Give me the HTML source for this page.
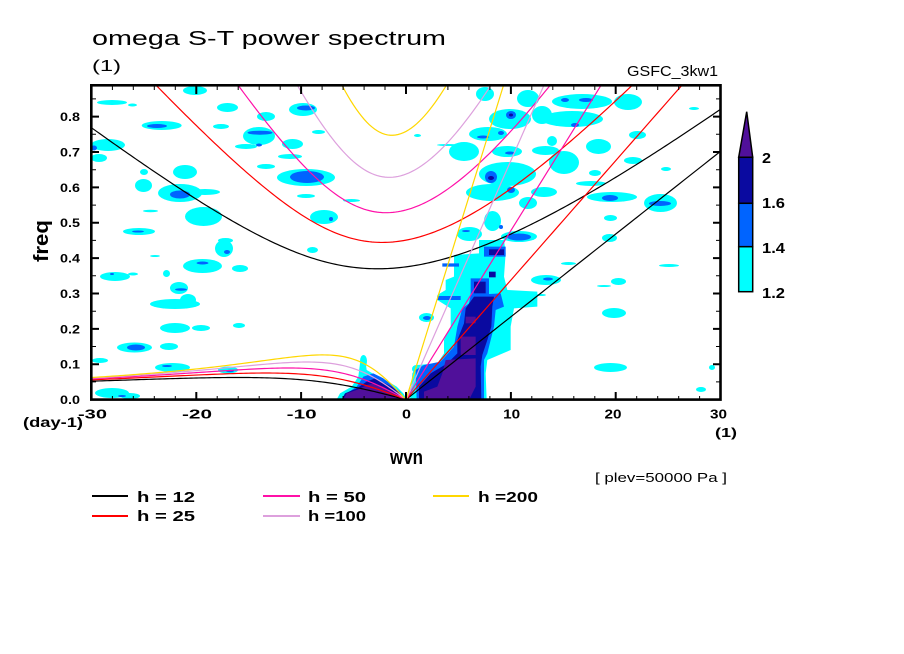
<!DOCTYPE html>
<html><head><meta charset="utf-8"><style>
html,body{margin:0;padding:0;background:#fff;}
svg{display:block;}
text{font-family:"Liberation Sans",sans-serif;fill:#000;}
.c{fill:#00ffff}.b{fill:#0064ff}.n{fill:#0a0aa0}.p{fill:#50109a}
.bd{font-weight:bold}
</style></head><body>
<svg width="904" height="654" viewBox="0 0 904 654" xmlns="http://www.w3.org/2000/svg">
<defs><clipPath id="pc"><rect x="91.3" y="85.3" width="629.2" height="314.3"/></clipPath></defs>
<rect width="904" height="654" fill="#fff"/>
<g clip-path="url(#pc)">
<!-- top-left blobs -->
<ellipse class="c" cx="195" cy="90.5" rx="12" ry="4.5"/>
<ellipse class="c" cx="112" cy="102.5" rx="15" ry="2.5"/>
<ellipse class="c" cx="132.5" cy="105" rx="4.5" ry="1.5"/>
<ellipse class="c" cx="227.5" cy="107.5" rx="10.5" ry="4.5"/>
<ellipse class="c" cx="266" cy="116.5" rx="9" ry="4.5"/>
<ellipse class="c" cx="303" cy="109.5" rx="14" ry="6.5"/>
<ellipse class="b" cx="306" cy="108" rx="9" ry="2.5"/>
<ellipse class="c" cx="161.7" cy="125.5" rx="20" ry="4.5"/>
<ellipse class="b" cx="157" cy="126" rx="10" ry="2"/>
<ellipse class="c" cx="221" cy="126.5" rx="8" ry="2.5"/>
<ellipse class="c" cx="259" cy="136" rx="16" ry="9"/>
<ellipse class="b" cx="260" cy="132.7" rx="12.5" ry="2"/>
<ellipse class="b" cx="259" cy="145" rx="3" ry="1.5"/>
<ellipse class="c" cx="246" cy="146.5" rx="11" ry="2.5"/>
<ellipse class="c" cx="292.5" cy="144" rx="10.5" ry="5"/>
<ellipse class="c" cx="318.5" cy="132" rx="6.5" ry="2"/>
<ellipse class="c" cx="108" cy="145" rx="17" ry="6"/>
<ellipse class="b" cx="94" cy="148" rx="3" ry="2.5"/>
<ellipse class="c" cx="99" cy="158" rx="8" ry="4"/>
<ellipse class="c" cx="290" cy="156.5" rx="12" ry="2.5"/>
<ellipse class="c" cx="266" cy="166.5" rx="9" ry="2.5"/>
<ellipse class="c" cx="185" cy="172" rx="12" ry="7"/>
<ellipse class="c" cx="144" cy="172" rx="4" ry="3"/>
<ellipse class="c" cx="306" cy="177.5" rx="29" ry="8.5"/>
<ellipse class="b" cx="307" cy="177" rx="17" ry="6"/>
<ellipse class="c" cx="143.5" cy="185.5" rx="8.5" ry="6.5"/>
<ellipse class="c" cx="180" cy="193" rx="22" ry="9"/>
<ellipse class="c" cx="205" cy="192" rx="15" ry="3"/>
<ellipse class="b" cx="180" cy="194.5" rx="10" ry="4"/>
<ellipse class="c" cx="203.5" cy="216.5" rx="18.5" ry="9.5"/>
<ellipse class="c" cx="306" cy="196" rx="9" ry="2"/>
<ellipse class="c" cx="351.5" cy="200.5" rx="8.5" ry="1.5"/>
<ellipse class="c" cx="324" cy="217" rx="14" ry="7"/>
<ellipse class="b" cx="331" cy="219" rx="2" ry="2"/>
<ellipse class="c" cx="139" cy="231.5" rx="16" ry="3.5"/>
<ellipse class="b" cx="138" cy="231.5" rx="6" ry="1"/>
<ellipse class="c" cx="225.5" cy="240.5" rx="7.5" ry="2.5"/>
<ellipse class="c" cx="150.5" cy="211" rx="7.5" ry="1.2"/>
<!-- top-right blobs -->
<ellipse class="c" cx="485" cy="94" rx="9" ry="7"/>
<ellipse class="c" cx="510" cy="119" rx="21" ry="10"/>
<ellipse class="b" cx="511" cy="115" rx="5" ry="4"/>
<ellipse class="n" cx="511" cy="115" rx="2" ry="1.5"/>
<ellipse class="c" cx="528" cy="98.5" rx="11" ry="8.5"/>
<ellipse class="c" cx="542" cy="115" rx="10" ry="9"/>
<ellipse class="c" cx="582" cy="101.5" rx="30" ry="7.5"/>
<ellipse class="b" cx="565" cy="100" rx="4" ry="2"/>
<ellipse class="b" cx="586" cy="100" rx="7" ry="2"/>
<ellipse class="c" cx="628" cy="102" rx="14" ry="8"/>
<ellipse class="c" cx="572" cy="119" rx="31" ry="8"/>
<ellipse class="b" cx="575" cy="125" rx="4" ry="2"/>
<ellipse class="c" cx="488" cy="134" rx="19" ry="7"/>
<ellipse class="b" cx="483" cy="137" rx="6" ry="1.5"/>
<ellipse class="b" cx="501" cy="133" rx="3" ry="2"/>
<ellipse class="c" cx="417.5" cy="135.5" rx="3.5" ry="1.5"/>
<ellipse class="c" cx="448" cy="145" rx="11" ry="1"/>
<ellipse class="c" cx="464" cy="151.5" rx="15" ry="9.5"/>
<ellipse class="c" cx="507" cy="151.5" rx="15" ry="5.5"/>
<ellipse class="b" cx="510" cy="153" rx="5" ry="1.5"/>
<ellipse class="c" cx="545.5" cy="150.5" rx="13.5" ry="4.5"/>
<ellipse class="c" cx="552" cy="141" rx="5" ry="5"/>
<ellipse class="c" cx="598.5" cy="146.5" rx="12.5" ry="7.5"/>
<ellipse class="c" cx="637.5" cy="135" rx="8.5" ry="4"/>
<ellipse class="c" cx="694" cy="108.5" rx="5" ry="1.5"/>
<ellipse class="c" cx="564" cy="162.5" rx="15" ry="11.5"/>
<ellipse class="c" cx="507.5" cy="174" rx="28.5" ry="12"/>
<ellipse class="b" cx="491" cy="177" rx="6" ry="6"/>
<ellipse class="n" cx="491" cy="178" rx="3" ry="2"/>
<ellipse class="c" cx="492.5" cy="192.5" rx="26.5" ry="8.5"/>
<ellipse class="b" cx="511" cy="190" rx="4" ry="3"/>
<ellipse class="c" cx="591" cy="183.5" rx="15" ry="2.5"/>
<ellipse class="c" cx="595" cy="173" rx="6" ry="3"/>
<ellipse class="c" cx="633" cy="160.5" rx="9" ry="3.5"/>
<ellipse class="c" cx="666" cy="169" rx="5" ry="2"/>
<ellipse class="c" cx="612" cy="197" rx="25" ry="5"/>
<ellipse class="b" cx="610" cy="198" rx="8" ry="3"/>
<ellipse class="c" cx="660.5" cy="203" rx="16.5" ry="9"/>
<ellipse class="b" cx="660" cy="203.5" rx="11" ry="2.5"/>
<ellipse class="c" cx="528" cy="203" rx="9" ry="6"/>
<ellipse class="c" cx="544" cy="192" rx="13" ry="5"/>
<ellipse class="c" cx="610.5" cy="218" rx="6.5" ry="3"/>
<ellipse class="c" cx="492.5" cy="221" rx="8.5" ry="10"/>
<ellipse class="b" cx="501" cy="227" rx="2" ry="2"/>
<ellipse class="c" cx="469.5" cy="234" rx="12.5" ry="7"/>
<ellipse class="b" cx="466" cy="231" rx="4" ry="1"/>
<ellipse class="c" cx="519" cy="236.5" rx="18" ry="5.5"/>
<ellipse class="b" cx="519" cy="237" rx="12" ry="3.5"/>
<ellipse class="c" cx="609.5" cy="238" rx="7.5" ry="4"/>
<!-- bottom-left blobs -->
<ellipse class="c" cx="224" cy="248.5" rx="9" ry="8.5"/>
<ellipse class="b" cx="227" cy="252" rx="3" ry="2"/>
<ellipse class="c" cx="312.5" cy="250" rx="5.5" ry="3"/>
<ellipse class="c" cx="155" cy="256" rx="5" ry="1"/>
<ellipse class="c" cx="202.5" cy="266" rx="19.5" ry="7"/>
<ellipse class="b" cx="202.5" cy="263" rx="6" ry="1.5"/>
<ellipse class="c" cx="240" cy="268.5" rx="8" ry="3.5"/>
<ellipse class="c" cx="115" cy="276.5" rx="15" ry="4.5"/>
<ellipse class="c" cx="133" cy="274" rx="5" ry="1.5"/>
<ellipse class="b" cx="112" cy="274" rx="2" ry="1"/>
<ellipse class="c" cx="166.5" cy="273.5" rx="3.5" ry="3.5"/>
<ellipse class="c" cx="179" cy="288" rx="9" ry="6"/>
<ellipse class="b" cx="181" cy="289.5" rx="6" ry="1.2"/>
<ellipse class="c" cx="175" cy="304" rx="25" ry="5"/>
<ellipse class="c" cx="188" cy="300" rx="8" ry="6"/>
<ellipse class="c" cx="175" cy="328" rx="15" ry="5"/>
<ellipse class="c" cx="201" cy="328" rx="9" ry="3"/>
<ellipse class="c" cx="239" cy="325.5" rx="6" ry="2.5"/>
<ellipse class="c" cx="134.5" cy="347.5" rx="17.5" ry="5"/>
<ellipse class="b" cx="136" cy="347.5" rx="9" ry="3"/>
<ellipse class="c" cx="169" cy="346.5" rx="9" ry="3.5"/>
<ellipse class="c" cx="100" cy="360.5" rx="8" ry="2.5"/>
<ellipse class="c" cx="172.5" cy="367.5" rx="17.5" ry="4.5"/>
<ellipse class="b" cx="167" cy="366" rx="5" ry="1"/>
<ellipse class="c" cx="228" cy="370" rx="10" ry="3.5"/>
<ellipse class="b" cx="230" cy="371" rx="4" ry="1.2"/>
<ellipse class="c" cx="112" cy="393" rx="17" ry="5"/>
<ellipse class="c" cx="130" cy="396" rx="10" ry="3"/>
<ellipse class="b" cx="122" cy="396" rx="4" ry="1"/>
<ellipse class="c" cx="363.5" cy="361" rx="3.5" ry="6"/>
<!-- bottom-right small blobs -->
<ellipse class="c" cx="610.5" cy="367.5" rx="16.5" ry="4.5"/>
<ellipse class="c" cx="614" cy="313" rx="12" ry="5"/>
<ellipse class="c" cx="618.5" cy="281.5" rx="7.5" ry="3.5"/>
<ellipse class="c" cx="568.5" cy="263.5" rx="7.5" ry="1.5"/>
<ellipse class="c" cx="669" cy="265.5" rx="10" ry="1.5"/>
<ellipse class="c" cx="604" cy="286" rx="7" ry="1"/>
<ellipse class="c" cx="701" cy="389.5" rx="5" ry="2.5"/>
<ellipse class="c" cx="712" cy="367.5" rx="3" ry="2.5"/>
<ellipse class="c" cx="426.5" cy="317.5" rx="7.5" ry="4.5"/>
<ellipse class="b" cx="427" cy="318" rx="4" ry="2"/>
<ellipse class="c" cx="416.5" cy="369" rx="4.5" ry="4"/>
<ellipse class="c" cx="541" cy="295" rx="5" ry="1"/>
<ellipse class="c" cx="546" cy="280" rx="15" ry="5"/>
<ellipse class="b" cx="548" cy="279" rx="5" ry="1.5"/>
<!-- Kelvin band (zoom coords) -->
<g transform="translate(404 240) scale(0.33333)">
<polygon class="c" points="225,0 300,0 305,40 300,110 310,150 400,155 400,200 330,205 320,260 320,330 285,345 250,360 245,400 248,480 18,480 25,400 40,375 100,370 120,340 120,300 140,260 140,205 100,180 100,165 125,150 125,120 150,110 150,45 225,40"/>
<polygon class="b" points="200,165 290,160 300,200 275,210 270,260 260,300 250,340 240,360 240,480 38,480 35,390 60,375 110,365 150,320 160,260 175,205 195,190"/>
<polygon class="n" points="210,170 270,170 265,200 262,260 250,300 235,345 230,380 232,480 45,480 45,440 80,400 130,370 160,340 160,300 180,250 185,205"/>
<polygon class="p" points="185,230 215,230 215,250 185,250"/>
<polygon class="p" points="170,290 215,290 215,345 170,345"/>
<polygon class="p" points="125,360 215,355 215,440 195,480 60,480 60,455 100,440 115,400"/>
<polygon class="b" points="240,20 305,20 305,50 240,50"/>
<polygon class="n" points="255,28 300,28 300,45 255,45"/>
<polygon class="b" points="200,115 255,115 255,165 200,165"/>
<polygon class="n" points="210,125 245,125 245,160 210,160"/>
<polygon class="b" points="100,168 170,168 170,180 100,180"/>
<polygon class="n" points="255,95 275,95 275,112 255,112"/>
<polygon class="b" points="115,70 165,70 165,80 115,80"/>
</g>
<!-- left origin cluster (zoom coords) -->
<g transform="translate(320 230) scale(0.33333)">
<polygon class="c" points="48,512 60,490 95,470 115,440 120,400 135,380 140,420 175,440 205,455 230,470 250,490 262,512"/>
<polygon class="b" points="60,512 80,490 110,470 130,440 160,430 190,445 215,465 240,485 258,512"/>
<polygon class="n" points="63,512 75,490 110,475 140,455 165,445 185,455 215,470 240,490 255,512"/>
<polygon class="p" points="68,512 80,490 115,478 140,465 165,460 190,470 215,485 235,500 242,512"/>
</g>
<g id="curves" fill="none" stroke-width="1.2"></g>
</g>
<!-- frame -->
<rect x="91.3" y="85.3" width="629.2" height="314.3" fill="none" stroke="#000" stroke-width="2.6"/>
<!-- ticks -->
<path stroke="#000" stroke-width="2" fill="none" d="M91 364.2h8M91 328.9h8M91 293.5h8M91 258.1h8M91 222.75h8M91 187.4h8M91 152h8M91 116.6h8M721 364.2h-8M721 328.9h-8M721 293.5h-8M721 258.1h-8M721 222.75h-8M721 187.4h-8M721 152h-8M721 116.6h-8M196.3 400v-8M301.1 400v-8M406 400v-8M510.9 400v-8M615.7 400v-8M196.3 85v9M301.1 85v9M406 85v9M510.9 85v9M615.7 85v9"/>
<path stroke="#000" stroke-width="1" fill="none" d="M91 381.9h5M91 346.5h5M91 311.2h5M91 275.8h5M91 240.4h5M91 205.1h5M91 169.7h5M91 134.3h5M91 98.9h5M721 381.9h-5M721 346.5h-5M721 311.2h-5M721 275.8h-5M721 240.4h-5M721 205.1h-5M721 169.7h-5M721 134.3h-5M721 98.9h-5M112.4 400v-4M133.3 400v-4M154.3 400v-4M175.3 400v-4M217.2 400v-4M238.2 400v-4M259.2 400v-4M280.2 400v-4M322.1 400v-4M343.1 400v-4M364.1 400v-4M385 400v-4M427 400v-4M447.9 400v-4M468.9 400v-4M489.9 400v-4M531.8 400v-4M552.8 400v-4M573.8 400v-4M594.8 400v-4M636.7 400v-4M657.7 400v-4M678.7 400v-4M699.6 400v-4M112.4 85v5M133.3 85v5M154.3 85v5M175.3 85v5M217.2 85v5M238.2 85v5M259.2 85v5M280.2 85v5M322.1 85v5M343.1 85v5M364.1 85v5M385 85v5M427 85v5M447.9 85v5M468.9 85v5M489.9 85v5M531.8 85v5M552.8 85v5M573.8 85v5M594.8 85v5M636.7 85v5M657.7 85v5M678.7 85v5M699.6 85v5"/>
<!-- titles -->
<text x="92" y="45" font-size="20" textLength="354" lengthAdjust="spacingAndGlyphs">omega S-T power spectrum</text>
<text x="92" y="71" font-size="16" textLength="29" lengthAdjust="spacingAndGlyphs">(1)</text>
<text x="627" y="76" font-size="15" textLength="91" lengthAdjust="spacingAndGlyphs">GSFC_3kw1</text>
<!-- y tick labels -->
<g class="bd" font-size="11.5" text-anchor="end">
<text x="80" y="404" textLength="20" lengthAdjust="spacingAndGlyphs">0.0</text>
<text x="80" y="368.7" textLength="20" lengthAdjust="spacingAndGlyphs">0.1</text>
<text x="80" y="333.4" textLength="20" lengthAdjust="spacingAndGlyphs">0.2</text>
<text x="80" y="298" textLength="20" lengthAdjust="spacingAndGlyphs">0.3</text>
<text x="80" y="262.6" textLength="20" lengthAdjust="spacingAndGlyphs">0.4</text>
<text x="80" y="227.2" textLength="20" lengthAdjust="spacingAndGlyphs">0.5</text>
<text x="80" y="191.9" textLength="20" lengthAdjust="spacingAndGlyphs">0.6</text>
<text x="80" y="156.5" textLength="20" lengthAdjust="spacingAndGlyphs">0.7</text>
<text x="80" y="121.1" textLength="20" lengthAdjust="spacingAndGlyphs">0.8</text>
</g>
<!-- x tick labels -->
<g class="bd" font-size="12.5" text-anchor="middle">
<text x="92.5" y="418.5" textLength="29" lengthAdjust="spacingAndGlyphs">-30</text>
<text x="197" y="418.5" textLength="30" lengthAdjust="spacingAndGlyphs">-20</text>
<text x="301.7" y="418.5" textLength="30" lengthAdjust="spacingAndGlyphs">-10</text>
<text x="406.5" y="418.5" textLength="9" lengthAdjust="spacingAndGlyphs">0</text>
<text x="511.7" y="418.5" textLength="17" lengthAdjust="spacingAndGlyphs">10</text>
<text x="613" y="418.5" textLength="17" lengthAdjust="spacingAndGlyphs">20</text>
<text x="718.5" y="418.5" textLength="17" lengthAdjust="spacingAndGlyphs">30</text>
</g>
<text class="bd" x="23" y="427" font-size="13.5" textLength="60" lengthAdjust="spacingAndGlyphs">(day-1)</text>
<text class="bd" x="715" y="437" font-size="13" textLength="22" lengthAdjust="spacingAndGlyphs">(1)</text>
<text class="bd" x="390" y="464" font-size="20" textLength="33" lengthAdjust="spacingAndGlyphs">wvn</text>
<text class="bd" transform="translate(48 262) rotate(-90)" x="0" y="0" font-size="20" textLength="42" lengthAdjust="spacingAndGlyphs">freq</text>
<text x="595" y="482" font-size="13" textLength="132" lengthAdjust="spacingAndGlyphs">[ plev=50000 Pa ]</text>
<!-- legend -->
<path stroke="#000000" stroke-width="2" d="M92 496H128"/>
<path stroke="#ff0000" stroke-width="2" d="M92 516H128"/>
<path stroke="#ff10a8" stroke-width="2" d="M263 496H300"/>
<path stroke="#dda0dd" stroke-width="2" d="M263 516H300"/>
<path stroke="#ffd700" stroke-width="2" d="M433 496H469"/>
<g class="bd" font-size="15">
<text x="137" y="502" textLength="58" lengthAdjust="spacingAndGlyphs">h = 12</text>
<text x="137" y="521" textLength="58" lengthAdjust="spacingAndGlyphs">h = 25</text>
<text x="308" y="502" textLength="58" lengthAdjust="spacingAndGlyphs">h = 50</text>
<text x="308" y="521" textLength="58" lengthAdjust="spacingAndGlyphs">h =100</text>
<text x="478" y="502" textLength="60" lengthAdjust="spacingAndGlyphs">h =200</text>
</g>
<!-- colorbar -->
<polygon class="p" points="746.7,111.7 752.7,157.3 738.7,157.3" stroke="#000" stroke-width="1.5"/>
<rect class="n" x="738.7" y="157.3" width="14" height="46" stroke="#000" stroke-width="1.5"/>
<rect class="b" x="738.7" y="203.3" width="14" height="43.4" stroke="#000" stroke-width="1.5"/>
<rect class="c" x="738.7" y="246.7" width="14" height="45" stroke="#000" stroke-width="1.5"/>
<g class="bd" font-size="15">
<text x="762" y="163" textLength="9" lengthAdjust="spacingAndGlyphs">2</text>
<text x="762" y="208" textLength="23" lengthAdjust="spacingAndGlyphs">1.6</text>
<text x="762" y="253" textLength="23" lengthAdjust="spacingAndGlyphs">1.4</text>
<text x="762" y="298" textLength="23" lengthAdjust="spacingAndGlyphs">1.2</text>
</g>
</svg>
<script>
(function(){
var a=6.371e6,Om=7.292e-5,be=2*Om/a,g=9.8,cpd=86400/(2*Math.PI);
function X(k){return 406+10.487*k}
function Y(f){return 399.6-353.7*f}
var hs=[[12,'#000000'],[25,'#ff0000'],[50,'#ff10a8'],[100,'#dda0dd'],[200,'#ffd700']];
var g0=document.getElementById('curves');
function add(pts,col){var p=document.createElementNS('http://www.w3.org/2000/svg','path');
p.setAttribute('d','M'+pts.map(function(q){return q[0].toFixed(2)+' '+q[1].toFixed(2)}).join('L'));
p.setAttribute('stroke',col);g0.appendChild(p);}
hs.forEach(function(h){var c=Math.sqrt(g*h[0]);var K=[],E=[],I=[],s,k,w,j;
for(s=0;s<=30.001;s+=0.5){K.push([X(s),Y(c*(s/a)*cpd)]);}
for(s=-30;s<=0.001;s+=0.25){k=s/a;w=-be*k/(k*k+3*be/c);E.push([X(s),Y(w*cpd)]);}
for(s=-30;s<=30.001;s+=0.25){k=s/a;w=Math.sqrt(3*be*c+c*c*k*k);
for(j=0;j<40;j++){w=Math.sqrt(3*be*c+c*c*k*k+be*c*c*k/w);}I.push([X(s),Y(w*cpd)]);}
add(K,h[1]);add(E,h[1]);add(I,h[1]);});
})();
</script>
</body></html>
